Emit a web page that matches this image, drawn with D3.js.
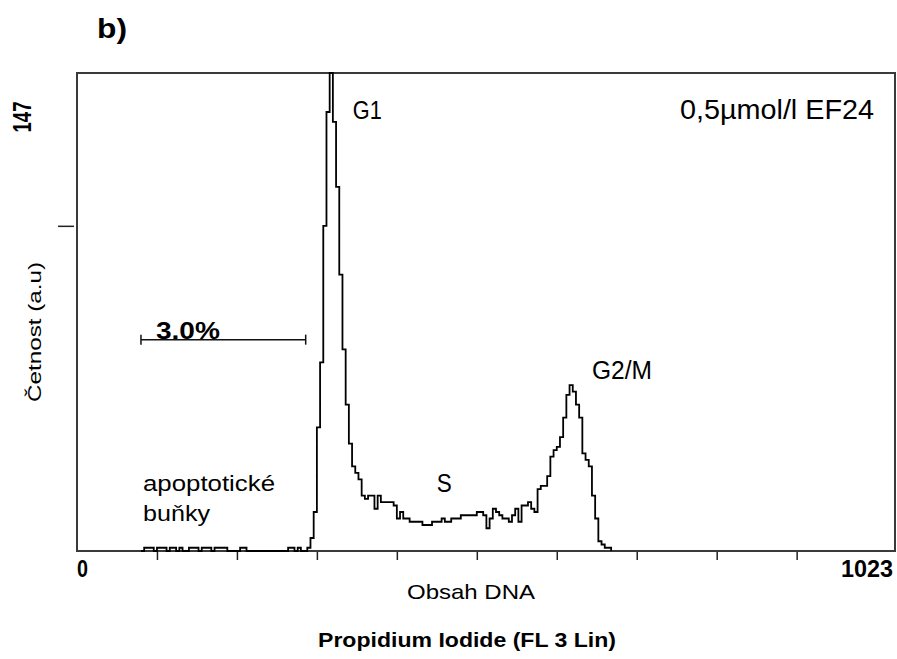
<!DOCTYPE html>
<html>
<head>
<meta charset="utf-8">
<script src="https://cdn.jsdelivr.net/npm/d3@7"></script>
<style>
  body { margin: 0; background: #fff; }
  text { font-family: "Liberation Sans", Arial, sans-serif; fill: #000; }
</style>
</head>
<body>
<div id="chart"></div>
<script>
// histogram: 4-channel bins starting at channel 80
const binStart = 80;
const binWidth = 4;
const counts = [
  0, 1, 1, 1, 0, 1, 1, 1, 0, 1, 1, 0, 1, 0, 0, 1, 1, 1, 0, 1,
  1, 1, 0, 1, 1, 1, 1, 0, 0, 0, 0, 1, 1, 0, 0, 0, 0, 0, 0, 0,
  0, 0, 0, 0, 0, 0, 1, 1, 0, 1, 0, 0, 1, 4, 12, 38, 58, 100, 135, 147,
  132, 112, 85, 62, 45, 33, 26, 24, 22, 17, 16, 17, 17, 13, 17, 15, 15, 15, 15, 14,
  10, 12, 10, 10, 9, 9, 9, 9, 8, 8, 8, 9, 9, 9, 10, 9, 9, 10, 10, 10,
  11, 11, 11, 11, 11, 12, 12, 11, 7, 10, 13, 12, 11, 10, 10, 9, 11, 13, 9, 14,
  14, 15, 13, 12, 19, 20, 20, 23, 29, 31, 32, 35, 41, 48, 51, 49, 45, 41, 30, 28,
  26, 17, 10, 3, 2, 1, 1, 0
];
const xTicks = [100, 200, 300, 400, 500, 600, 700, 800, 900];
const yTicks = [100];
const xMax = 1023;
const yMax = 147;
const gate = [80, 286];
const gateLevel = 65;
const gateLabel = "3.0%";
const peakLabels = [
  { text: "G1", ch: 345, c: 133, len: 29 },
  { text: "S", ch: 450, c: 18, len: 15 },
  { text: "G2/M", ch: 644, c: 53, len: 60 }
];

const width = 897, height = 659;
const margin = { top: 73, right: 2, bottom: 108, left: 77 };

const svg = d3.select("#chart").append("svg")
  .attr("width", width)
  .attr("height", height);

const x = d3.scaleLinear().domain([0, xMax]).range([margin.left, width - margin.right]);
const y = d3.scaleLinear().domain([0, yMax]).range([height - margin.bottom, margin.top]);

const data = counts.map((c, i) => ({ ch: binStart + i * binWidth, c: c }));

// frame
svg.append("rect")
  .attr("x", x(0)).attr("y", y(yMax))
  .attr("width", x(xMax) - x(0))
  .attr("height", y(0) - y(yMax))
  .attr("fill", "none")
  .attr("stroke", "#3a3a3a")
  .attr("stroke-width", 2);

svg.append("g")
  .attr("transform", `translate(0,${y(0) + 1})`)
  .call(d3.axisBottom(x).tickValues(xTicks).tickSize(8).tickFormat(""))
  .call(g => g.select(".domain").remove())
  .call(g => g.selectAll("line").attr("stroke", "#222").attr("stroke-width", 1.5));

svg.append("g")
  .attr("transform", `translate(${x(0) - 3},0)`)
  .call(d3.axisLeft(y).tickValues(yTicks).tickSize(16).tickFormat(""))
  .call(g => g.select(".domain").remove())
  .call(g => g.selectAll("line").attr("stroke", "#222").attr("stroke-width", 1.5));

// histogram trace
const line = d3.line()
  .x(d => x(d.ch))
  .y(d => y(d.c))
  .curve(d3.curveStepAfter);

svg.append("path")
  .datum(data)
  .attr("d", line)
  .attr("fill", "none")
  .attr("stroke", "#000")
  .attr("stroke-width", 1.8);

// gate marker
svg.append("line")
  .attr("x1", x(gate[0])).attr("x2", x(gate[1]))
  .attr("y1", y(gateLevel)).attr("y2", y(gateLevel))
  .attr("stroke", "#111").attr("stroke-width", 1.5);
gate.forEach(g => {
  svg.append("line")
    .attr("x1", x(g)).attr("x2", x(g))
    .attr("y1", y(gateLevel) - 5).attr("y2", y(gateLevel) + 5)
    .attr("stroke", "#111").attr("stroke-width", 1.5);
});
svg.append("text")
  .attr("x", x(gate[0]) + 15).attr("y", y(gateLevel) - 1)
  .attr("font-size", 23).attr("font-weight", "bold")
  .attr("textLength", 64).attr("lengthAdjust", "spacingAndGlyphs")
  .text(gateLabel);

peakLabels.forEach(p => {
  svg.append("text")
    .attr("x", x(p.ch)).attr("y", y(p.c))
    .attr("font-size", 25)
    .attr("textLength", p.len).attr("lengthAdjust", "spacingAndGlyphs")
    .text(p.text);
});

svg.append("text")
  .attr("x", 874).attr("y", 119)
  .attr("text-anchor", "end")
  .attr("font-size", 28)
  .attr("textLength", 194).attr("lengthAdjust", "spacingAndGlyphs")
  .text("0,5µmol/l EF24");

svg.append("text")
  .attr("x", 143).attr("y", 491)
  .attr("font-size", 22)
  .attr("textLength", 132).attr("lengthAdjust", "spacingAndGlyphs")
  .text("apoptotické");
svg.append("text")
  .attr("x", 143).attr("y", 521)
  .attr("font-size", 22)
  .attr("textLength", 67).attr("lengthAdjust", "spacingAndGlyphs")
  .text("buňky");

// axis end labels
svg.append("text")
  .attr("x", x(0)).attr("y", 577)
  .attr("font-size", 23).attr("font-weight", "bold")
  .attr("textLength", 11).attr("lengthAdjust", "spacingAndGlyphs")
  .text("0");
svg.append("text")
  .attr("x", 893).attr("y", 577)
  .attr("text-anchor", "end")
  .attr("font-size", 24).attr("font-weight", "bold")
  .attr("textLength", 52).attr("lengthAdjust", "spacingAndGlyphs")
  .text(String(xMax));
svg.append("text")
  .attr("transform", "translate(31,117) rotate(-90)")
  .attr("text-anchor", "middle")
  .attr("font-size", 26).attr("font-weight", "bold")
  .attr("textLength", 31).attr("lengthAdjust", "spacingAndGlyphs")
  .text(String(yMax));

svg.append("text")
  .attr("transform", "translate(41,332) rotate(-90)")
  .attr("text-anchor", "middle")
  .attr("font-size", 19)
  .attr("textLength", 140).attr("lengthAdjust", "spacingAndGlyphs")
  .text("Četnost (a.u)");

svg.append("text")
  .attr("x", 471).attr("y", 599)
  .attr("text-anchor", "middle")
  .attr("font-size", 21)
  .attr("textLength", 128).attr("lengthAdjust", "spacingAndGlyphs")
  .text("Obsah DNA");

svg.append("text")
  .attr("x", 467).attr("y", 647)
  .attr("text-anchor", "middle")
  .attr("font-size", 21).attr("font-weight", "bold")
  .attr("textLength", 298).attr("lengthAdjust", "spacingAndGlyphs")
  .text("Propidium Iodide (FL 3 Lin)");

svg.append("text")
  .attr("x", 97).attr("y", 38)
  .attr("font-size", 28).attr("font-weight", "bold")
  .attr("textLength", 30).attr("lengthAdjust", "spacingAndGlyphs")
  .text("b)");
</script>
</body>
</html>
